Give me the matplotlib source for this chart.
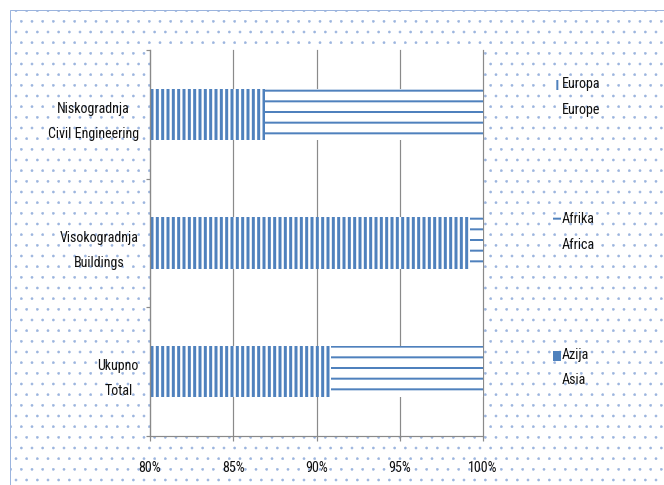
import matplotlib
matplotlib.use('Agg')
import matplotlib.pyplot as plt
from matplotlib.patches import Rectangle
import numpy as np

# ---- data ----
categories = ['Ukupno\nTotal', 'Visokogradnja\nBuildings', 'Niskogradnja\nCivil Engineering']
series_names = ['Europa\nEurope', 'Afrika\nAfrica', 'Azija\nAsia']
europe = [90.9, 99.2, 86.9]
africa = [9.1, 0.8, 13.1]
asia = [0.0, 0.0, 0.0]
xticks = [80, 85, 90, 95, 100]
xtick_labels = ['80%', '85%', '90%', '95%', '100%']

# ---- style ----
DPI = 64
W, H = 664, 485
def pt(px):
    return px * 72.0 / DPI

BLUE = '#4f81bd'
DOT = '#9bb4de'
GRID = '#8a8a8a'
TXT = '#111111'
EM = 14.0
FS = pt(EM)

plt.rcParams['font.family'] = ['Roboto Condensed', 'Roboto', 'DejaVu Sans']

HAS_HLW = hasattr(Rectangle, 'set_hatch_linewidth')

def set_hlw(artist, px):
    if HAS_HLW:
        artist.set_hatch_linewidth(pt(px))

fig = plt.figure(figsize=(W / DPI, H / DPI), dpi=DPI)
fig.patch.set_facecolor('white')

# dotted chart-area background
bg = Rectangle((10 / W, -0.05), 1.2, 1 - 10 / H + 0.05, transform=fig.transFigure,
               facecolor='white', edgecolor=DOT, hatch='.', lw=pt(1.0), zorder=-5)
set_hlw(bg, 0.5)
fig.add_artist(bg)

ax = fig.add_axes([150 / W, 1 - 436 / H, 333 / W, 386 / H])
ax.set_facecolor('white')
y = np.arange(len(categories))

b1 = ax.barh(y, europe, height=0.4, color='white', edgecolor=BLUE, hatch='||', lw=0,
             label=series_names[0])
b2 = ax.barh(y, africa, left=europe, height=0.4, color='white', edgecolor=BLUE, hatch='-', lw=0,
             label=series_names[1])
b3 = ax.barh(y, asia, left=np.add(europe, africa), height=0.4, color=BLUE, lw=0,
             label=series_names[2])
for p in b1.patches:
    set_hlw(p, 3.0)
for p in b2.patches:
    set_hlw(p, 2.0)

ax.set_xlim(80, 100)
ax.set_ylim(-0.5, 2.5)
ax.set_xticks(xticks, xtick_labels)
ax.set_yticks(y, categories)
ax.set_yticks([-0.5, 0.5, 1.5, 2.5], minor=True)
ax.grid(axis='x', color=GRID, lw=pt(1.2))
ax.set_axisbelow(True)
for gl in ax.get_xgridlines():
    gl.set_clip_on(False)
for s in ['top', 'right']:
    ax.spines[s].set_visible(False)
for s in ['left', 'bottom']:
    ax.spines[s].set_color(GRID)
    ax.spines[s].set_linewidth(pt(1.2))

ax.tick_params(axis='x', direction='out', length=pt(5), color=GRID, width=pt(1.2),
               pad=pt(20), labelsize=FS, labelcolor=TXT)
ax.tick_params(axis='y', which='major', length=0, pad=pt(11), labelsize=FS, labelcolor=TXT)
ax.tick_params(axis='y', which='minor', length=pt(4), color=GRID, width=pt(1.2))
for t in ax.get_yticklabels():
    t.set_multialignment('center')
    t.set_linespacing(2.0)

leg = fig.legend(handles=[b1, b2, b3], labels=series_names, loc='upper left',
                 bbox_to_anchor=(553 / W, 1 - 77 / H), frameon=False, fontsize=FS,
                 handlelength=8 / EM, handleheight=11 / EM, handletextpad=0.08,
                 labelspacing=6.85, borderpad=0, borderaxespad=0)
for t in leg.get_texts():
    t.set_linespacing(2.05)
    t.set_color(TXT)
for h in leg.legend_handles:
    h.set_y(h.get_y() + pt(12.5))
    set_hlw(h, 2.0)

fig.savefig('out.png', dpi=DPI)
